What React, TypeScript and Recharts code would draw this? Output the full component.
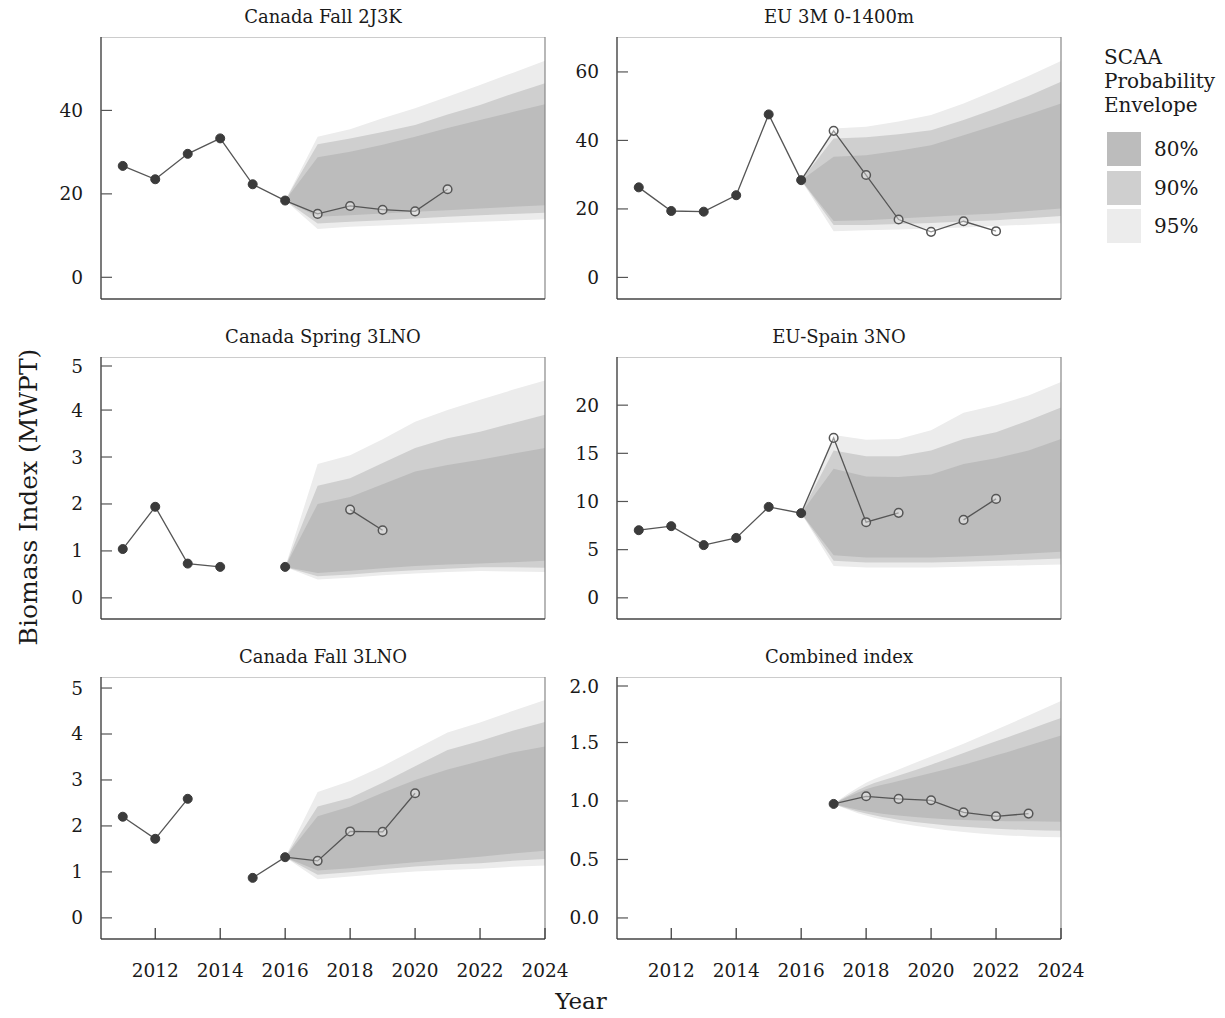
import React from 'react'
import { ComposedChart, Area, Line, XAxis, YAxis, ReferenceLine } from 'recharts'

const FONT = '"DejaVu Serif", "Liberation Serif", serif'

const years = [2011, 2012, 2013, 2014, 2015, 2016, 2017, 2018, 2019, 2020, 2021, 2022, 2023, 2024]
const xTicks = [2012, 2014, 2016, 2018, 2020, 2022, 2024]
const envYears = [2016, 2017, 2018, 2019, 2020, 2021, 2022, 2023, 2024]
const combinedEnvYears = [2017, 2018, 2019, 2020, 2021, 2022, 2023, 2024]

// observed (filled) and survey (open) indices, aligned with `years`
const fall2J3KObs = [26.7, 23.5, 29.6, 33.3, 22.3, 18.4, null, null, null, null, null, null, null, null]
const fall2J3KSurvey = [null, null, null, null, null, null, 15.2, 17.1, 16.2, 15.8, 21.1, null, null, null]
const eu3MObs = [26.3, 19.4, 19.2, 24.0, 47.6, 28.4, null, null, null, null, null, null, null, null]
const eu3MSurvey = [null, null, null, null, null, null, 42.8, 29.9, 16.9, 13.3, 16.4, 13.5, null, null]
const spring3LNOObs = [1.04, 1.94, 0.73, 0.66, null, 0.66, null, null, null, null, null, null, null, null]
const spring3LNOSurvey = [null, null, null, null, null, null, null, 1.88, 1.44, null, null, null, null, null]
const spain3NOObs = [7.02, 7.44, 5.47, 6.22, 9.44, 8.79, null, null, null, null, null, null, null, null]
const spain3NOSurvey = [null, null, null, null, null, null, 16.6, 7.85, 8.82, null, 8.09, 10.27, null, null]
const fall3LNOObs = [2.2, 1.72, 2.59, null, 0.87, 1.32, null, null, null, null, null, null, null, null]
const fall3LNOSurvey = [null, null, null, null, null, null, 1.24, 1.88, 1.87, 2.71, null, null, null, null]
const combinedObs = [null, null, null, null, null, null, 0.975, null, null, null, null, null, null, null]
const combinedSurvey = [null, null, null, null, null, null, null, 1.04, 1.018, 1.006, 0.903, 0.869, 0.892, null]

// SCAA probability envelopes, aligned with envYears (combined: combinedEnvYears)
const fall2J3KLo95 = [18.4, 11.6, 12.1, 12.4, 12.7, 13.0, 13.3, 13.6, 13.9]
const fall2J3KLo90 = [18.4, 12.9, 13.3, 13.7, 14.1, 14.5, 14.9, 15.2, 15.5]
const fall2J3KLo80 = [18.4, 14.5, 14.9, 15.3, 15.7, 16.1, 16.5, 16.9, 17.3]
const fall2J3KHi80 = [18.4, 28.8, 30.1, 31.8, 33.7, 35.8, 37.7, 39.6, 41.5]
const fall2J3KHi90 = [18.4, 31.9, 33.3, 34.8, 36.5, 39.0, 41.3, 44.0, 46.5]
const fall2J3KHi95 = [18.4, 33.7, 35.5, 38.1, 40.5, 43.3, 46.1, 49.0, 51.9]

const eu3MLo95 = [28.4, 13.5, 13.8, 14.0, 14.3, 14.6, 15.0, 15.4, 15.8]
const eu3MLo90 = [28.4, 15.3, 15.3, 15.6, 15.9, 16.3, 16.7, 17.3, 17.9]
const eu3MLo80 = [28.4, 16.5, 16.7, 17.2, 17.7, 18.2, 18.7, 19.4, 20.1]
const eu3MHi80 = [28.4, 35.2, 35.7, 37.0, 38.6, 41.5, 44.5, 47.6, 50.8]
const eu3MHi90 = [28.4, 40.6, 40.9, 41.8, 43.0, 46.0, 49.3, 53.0, 57.1]
const eu3MHi95 = [28.4, 43.5, 44.0, 45.5, 47.4, 50.8, 54.7, 58.8, 63.2]

const spring3LNOLo95 = [0.66, 0.39, 0.43, 0.48, 0.52, 0.55, 0.57, 0.56, 0.55]
const spring3LNOLo90 = [0.66, 0.46, 0.5, 0.55, 0.59, 0.62, 0.65, 0.65, 0.64]
const spring3LNOLo80 = [0.66, 0.53, 0.58, 0.63, 0.68, 0.71, 0.73, 0.76, 0.79]
const spring3LNOHi80 = [0.66, 2.0, 2.15, 2.42, 2.69, 2.83, 2.94, 3.07, 3.19]
const spring3LNOHi90 = [0.66, 2.39, 2.55, 2.87, 3.19, 3.4, 3.54, 3.72, 3.9]
const spring3LNOHi95 = [0.66, 2.85, 3.04, 3.38, 3.75, 4.0, 4.22, 4.43, 4.63]

const spain3NOLo95 = [8.79, 3.29, 3.15, 3.15, 3.15, 3.22, 3.29, 3.37, 3.46]
const spain3NOLo90 = [8.79, 3.84, 3.67, 3.67, 3.67, 3.75, 3.84, 3.96, 4.08]
const spain3NOLo80 = [8.79, 4.43, 4.19, 4.19, 4.19, 4.3, 4.43, 4.6, 4.77]
const spain3NOHi80 = [8.79, 13.4, 12.6, 12.55, 12.8, 13.9, 14.5, 15.3, 16.5]
const spain3NOHi90 = [8.79, 15.3, 14.7, 14.7, 15.3, 16.5, 17.2, 18.4, 19.75]
const spain3NOHi95 = [8.79, 16.9, 16.4, 16.5, 17.4, 19.2, 20.0, 21.0, 22.4]

const fall3LNOLo95 = [1.32, 0.84, 0.9, 0.96, 1.01, 1.04, 1.07, 1.11, 1.14]
const fall3LNOLo90 = [1.32, 0.94, 0.99, 1.06, 1.12, 1.16, 1.19, 1.24, 1.28]
const fall3LNOLo80 = [1.32, 1.03, 1.08, 1.15, 1.21, 1.27, 1.33, 1.4, 1.46]
const fall3LNOHi80 = [1.32, 2.21, 2.42, 2.72, 3.0, 3.23, 3.41, 3.6, 3.73]
const fall3LNOHi90 = [1.32, 2.42, 2.61, 2.94, 3.3, 3.65, 3.85, 4.07, 4.26]
const fall3LNOHi95 = [1.32, 2.74, 2.98, 3.3, 3.67, 4.03, 4.25, 4.5, 4.74]

const combinedLo95 = [0.975, 0.875, 0.812, 0.769, 0.735, 0.712, 0.697, 0.689]
const combinedLo90 = [0.975, 0.892, 0.84, 0.806, 0.78, 0.763, 0.752, 0.746]
const combinedLo80 = [0.975, 0.912, 0.875, 0.852, 0.838, 0.829, 0.826, 0.823]
const combinedHi80 = [0.975, 1.1, 1.17, 1.24, 1.31, 1.39, 1.475, 1.56]
const combinedHi90 = [0.975, 1.126, 1.218, 1.31, 1.41, 1.51, 1.61, 1.71]
const combinedHi95 = [0.975, 1.155, 1.27, 1.38, 1.49, 1.61, 1.73, 1.855]

const C80 = '#bcbcbc'
const C90 = '#cfcfcf'
const C95 = '#ececec'
const TEXT = '#1a1a1a'

function buildRows(obs, survey, envYrs, lo95, lo90, lo80, hi80, hi90, hi95) {
  return years.map((year, i) => {
    const j = envYrs.indexOf(year)
    return {
      year,
      path: obs[i] ?? survey[i],
      obs: obs[i],
      survey: survey[i],
      b95: j >= 0 ? [lo95[j], hi95[j]] : null,
      b90: j >= 0 ? [lo90[j], hi90[j]] : null,
      b80: j >= 0 ? [lo80[j], hi80[j]] : null,
    }
  })
}

const YTick = ({ x, y, payload, fmt }) => (
  <g>
    <line x1={x} x2={x + 11} y1={y} y2={y} stroke="#555" strokeWidth={1.2} />
    <text x={x - 18} y={y} textAnchor="end" dominantBaseline="central" fontSize={18.5} fill={TEXT} fontFamily={FONT}>
      {fmt ? fmt(payload.value) : payload.value}
    </text>
  </g>
)

const XTick = ({ x, y, payload }) => (
  <g>
    <line x1={x} x2={x} y1={y} y2={y - 11} stroke="#333" strokeWidth={1.2} />
    <text x={x} y={y + 31} textAnchor="middle" dominantBaseline="central" fontSize={18.5} fill={TEXT} fontFamily={FONT}>
      {payload.value}
    </text>
  </g>
)

const PLOT_W = 444
const PLOT_H = 262
const Y_W = 80
const R_PAD = 32

function Panel({ title, left, top, rows, domain, ticks, fmt, showX, smooth }) {
  const xh = showX ? 50 : 1
  const curve = smooth ? 'monotone' : 'linear'
  return (
    <>
      <div style={{ position: 'absolute', left, top: top - 30, width: PLOT_W, textAlign: 'center', fontSize: 18, lineHeight: '20px', color: TEXT }}>
        {title}
      </div>
      <div style={{ position: 'absolute', left: left - Y_W, top }}>
        <ComposedChart width={Y_W + PLOT_W + R_PAD} height={PLOT_H + xh} data={rows} margin={{ top: 0, right: R_PAD, bottom: 0, left: 0 }}>
          <XAxis
            dataKey="year"
            type="number"
            domain={[2010.33, 2024]}
            allowDataOverflow
            ticks={xTicks}
            height={xh}
            axisLine={{ stroke: '#444', strokeWidth: 1.3 }}
            tickLine={false}
            tickSize={0}
            tickMargin={0}
            tick={showX ? <XTick /> : false}
          />
          <YAxis
            type="number"
            domain={domain}
            allowDataOverflow
            ticks={ticks}
            width={Y_W}
            axisLine={{ stroke: '#333', strokeWidth: 1.3 }}
            tickLine={false}
            tickSize={0}
            tickMargin={0}
            tick={<YTick fmt={fmt} />}
          />
          <ReferenceLine y={domain[1]} stroke="#999" strokeWidth={1.2} />
          <ReferenceLine x={2024} stroke="#888" strokeWidth={1.2} />
          <Area type={curve} dataKey="b95" stroke="none" fill={C95} fillOpacity={1} isAnimationActive={false} activeDot={false} />
          <Area type={curve} dataKey="b90" stroke="none" fill={C90} fillOpacity={1} isAnimationActive={false} activeDot={false} />
          <Area type={curve} dataKey="b80" stroke="none" fill={C80} fillOpacity={1} isAnimationActive={false} activeDot={false} />
          <Line type="linear" dataKey="path" stroke="#555" strokeWidth={1.3} dot={false} activeDot={false} isAnimationActive={false} />
          <Line
            dataKey="obs"
            stroke="none"
            dot={{ r: 4.5, fill: '#3b3b3b', stroke: '#3b3b3b', strokeWidth: 1 }}
            activeDot={false}
            isAnimationActive={false}
          />
          <Line
            dataKey="survey"
            stroke="none"
            dot={{ r: 4.3, fill: '#ffffff', fillOpacity: 0.4, stroke: '#555', strokeWidth: 1.5 }}
            activeDot={false}
            isAnimationActive={false}
          />
        </ComposedChart>
      </div>
    </>
  )
}

export default function App() {
  return (
    <div style={{ position: 'absolute', left: 0, top: 0, width: 1225, height: 1018, background: '#fff', fontFamily: FONT }}>
      <Panel
        title="Canada Fall 2J3K"
        left={101}
        top={37}
        rows={buildRows(fall2J3KObs, fall2J3KSurvey, envYears, fall2J3KLo95, fall2J3KLo90, fall2J3KLo80, fall2J3KHi80, fall2J3KHi90, fall2J3KHi95)}
        domain={[-5.2, 57.6]}
        ticks={[0, 20, 40]}
      />
      <Panel
        title="EU 3M 0-1400m"
        left={617}
        top={37}
        rows={buildRows(eu3MObs, eu3MSurvey, envYears, eu3MLo95, eu3MLo90, eu3MLo80, eu3MHi80, eu3MHi90, eu3MHi95)}
        domain={[-6.3, 70.2]}
        ticks={[0, 20, 40, 60]}
      />
      <Panel
        title="Canada Spring 3LNO"
        left={101}
        top={357}
        rows={buildRows(spring3LNOObs, spring3LNOSurvey, envYears, spring3LNOLo95, spring3LNOLo90, spring3LNOLo80, spring3LNOHi80, spring3LNOHi90, spring3LNOHi95)}
        domain={[-0.45, 5.13]}
        ticks={[0, 1, 2, 3, 4, 5]}
      />
      <Panel
        title="EU-Spain 3NO"
        left={617}
        top={357}
        rows={buildRows(spain3NOObs, spain3NOSurvey, envYears, spain3NOLo95, spain3NOLo90, spain3NOLo80, spain3NOHi80, spain3NOHi90, spain3NOHi95)}
        domain={[-2.2, 25]}
        ticks={[0, 5, 10, 15, 20]}
      />
      <Panel
        title="Canada Fall 3LNO"
        left={101}
        top={677}
        rows={buildRows(fall3LNOObs, fall3LNOSurvey, envYears, fall3LNOLo95, fall3LNOLo90, fall3LNOLo80, fall3LNOHi80, fall3LNOHi90, fall3LNOHi95)}
        domain={[-0.46, 5.24]}
        ticks={[0, 1, 2, 3, 4, 5]}
        showX
      />
      <Panel
        title="Combined index"
        left={617}
        top={677}
        rows={buildRows(combinedObs, combinedSurvey, combinedEnvYears, combinedLo95, combinedLo90, combinedLo80, combinedHi80, combinedHi90, combinedHi95)}
        domain={[-0.18, 2.06]}
        ticks={[0, 0.5, 1, 1.5, 2]}
        fmt={(v) => v.toFixed(1)}
        showX
        smooth
      />

      {/* shared axis titles */}
      <div style={{ position: 'absolute', left: 28, top: 497, transform: 'translate(-50%, -50%) rotate(-90deg)', whiteSpace: 'nowrap', fontSize: 25, color: TEXT }}>
        Biomass Index (MWPT)
      </div>
      <div style={{ position: 'absolute', left: 581, top: 1001, transform: 'translate(-50%, -50%)', fontSize: 23, color: TEXT }}>
        Year
      </div>

      {/* legend */}
      <div style={{ position: 'absolute', left: 1104, top: 45, fontSize: 20, lineHeight: '24px', color: TEXT }}>
        SCAA<br />Probability<br />Envelope
      </div>
      {[
        { label: '80%', color: C80, top: 132 },
        { label: '90%', color: C90, top: 171 },
        { label: '95%', color: C95, top: 209 },
      ].map((item) => (
        <div key={item.label} style={{ position: 'absolute', left: 1107, top: item.top, display: 'flex', alignItems: 'center' }}>
          <div style={{ width: 34, height: 34, background: item.color }} />
          <span style={{ marginLeft: 13, fontSize: 20, color: TEXT }}>{item.label}</span>
        </div>
      ))}
    </div>
  )
}
